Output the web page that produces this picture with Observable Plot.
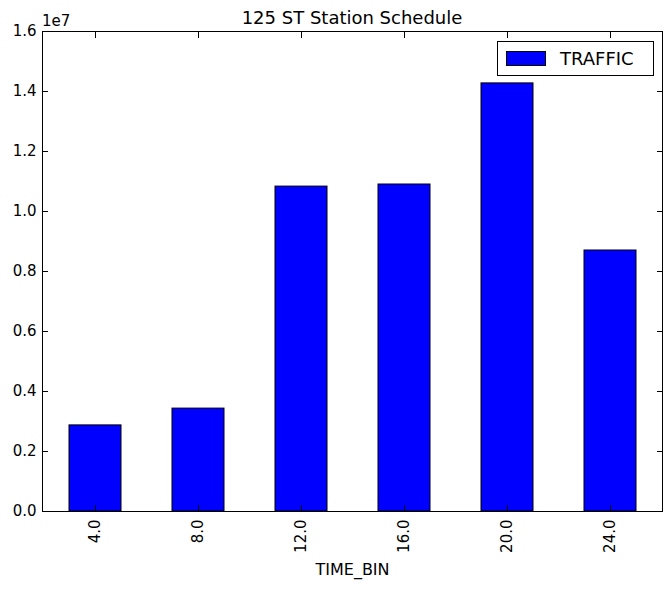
<!DOCTYPE html>
<html><head><meta charset="utf-8">
<script src="https://cdn.jsdelivr.net/npm/d3@7"></script>
<script src="https://cdn.jsdelivr.net/npm/@observablehq/plot@0.6"></script>
<style>
body{margin:0;background:#fff;font-family:"DejaVu Sans",sans-serif}
#wrap{position:relative;width:672px;height:589px}
.t{position:absolute;color:#000}
</style></head><body>
<div id="wrap">
  <div class="t" style="left:0;width:704px;top:7px;text-align:center;font-size:18px">125 ST Station Schedule</div>
  <div class="t" style="left:42px;top:12px;font-size:15px">1e7</div>
  <div class="t" style="left:497px;top:41px;width:155px;height:33px;border:1px solid #000;background:#fff">
    <div style="position:absolute;left:8px;top:9px;width:38px;height:13px;background:#0000ff;border:1px solid #000"></div>
    <div style="position:absolute;left:62px;top:6px;font-size:18px">TRAFFIC</div>
  </div>
  <div id="chart"></div>
</div>
<script>
const bins = ["4.0", "8.0", "12.0", "16.0", "20.0", "24.0"];
const traffic = [2870000, 3430000, 10830000, 10900000, 14270000, 8700000];
const data = bins.map((b, i) => ({bin: b, traffic: traffic[i]}));
const yTicks = d3.range(0, 1.61e7, 0.2e7);

const chart = Plot.plot({
  width: 672, height: 589,
  marginLeft: 42, marginRight: 10, marginTop: 31, marginBottom: 78,
  style: {fontFamily: "DejaVu Sans", fontSize: "15px", color: "#000", background: "white"},
  x: {domain: bins, paddingInner: 0.5, paddingOuter: 0.25, label: null},
  y: {domain: [0, 1.6e7], label: null},
  marks: [
    Plot.barY(data, {x: "bin", y: "traffic", fill: "#0000ff", stroke: "#000", strokeWidth: 1}),
    Plot.axisY({ticks: yTicks, tickSize: 0, tickPadding: 6, tickFormat: d => (d / 1e7).toFixed(1)}),
    Plot.axisY({ticks: yTicks, tickSize: -6, tickFormat: () => ""}),
    Plot.axisY({anchor: "right", ticks: yTicks, tickSize: -6, tickFormat: () => ""}),
    Plot.axisX({tickSize: 0, tickPadding: 8, tickRotate: -90}),
    Plot.axisX({tickSize: -6, tickFormat: () => ""}),
    Plot.axisX({anchor: "top", tickSize: -6, tickFormat: () => ""}),
    Plot.frame({stroke: "#000"}),
    Plot.text(["TIME_BIN"], {frameAnchor: "bottom", dy: 63, fontSize: 16})
  ]
});
document.getElementById("chart").append(chart);
</script>
</body></html>
